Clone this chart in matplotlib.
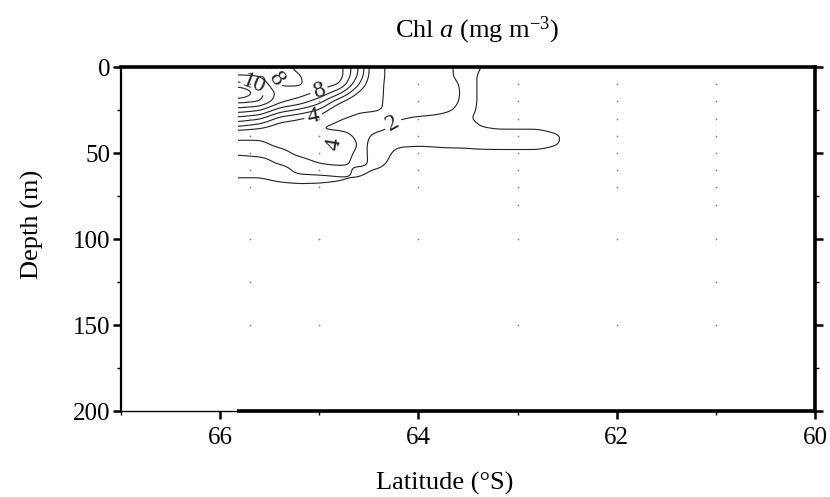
import numpy as np
import matplotlib.pyplot as plt
from matplotlib.ticker import MultipleLocator

plt.rcParams['font.family'] = ['Liberation Serif', 'DejaVu Serif']
plt.rcParams['mathtext.fontset'] = 'custom'
plt.rcParams['mathtext.rm'] = 'Liberation Serif'
plt.rcParams['mathtext.it'] = 'Liberation Serif:italic'

# gridded Chl a (mg m-3), one row per latitude, values at the depths below
lats = [65.83, 65.6, 65.4, 65.2, 65.0, 64.8, 64.6, 64.4, 64.2, 64.0, 63.8, 63.7,
        63.6, 63.5, 63.4, 63.2, 63.0, 62.8, 62.6, 62.4, 62.0, 61.0, 60.0]
depths = [0, 5, 10, 15, 20, 25, 30, 35, 40, 45, 50, 55, 60, 65, 70, 80, 100, 150, 200]
chl = [
    [8.7, 8.95, 10.4, 12.5, 10.3, 8.6, 6.6, 4.9, 2.5, 1.5, 1.8, 2.6, 2.6, 1.9, 1.4, 1.0, 0.6, 0.5, 0.5],
    [8.6, 8.9, 9.9, 10.4, 10.1, 8.1, 6.1, 4.3, 2.4, 1.6, 1.6, 2.5, 2.6, 1.9, 1.3, 1.0, 0.6, 0.5, 0.5],
    [7.5, 7.6, 7.8, 8.6, 8.3, 6.5, 4.6, 3.3, 2.9, 2.3, 1.5, 1.7, 2.6, 2.3, 1.5, 1.0, 0.6, 0.5, 0.5],
    [8.3, 7.9, 7.85, 8.5, 7.6, 5.8, 4.05, 3.1, 2.9, 2.8, 2.3, 1.5, 1.6, 2.5, 1.6, 1.0, 0.6, 0.5, 0.5],
    [8.6, 8.8, 8.6, 7.9, 6.4, 4.9, 3.4, 1.9, 2.6, 3.1, 2.9, 2.1, 1.5, 2.4, 1.6, 1.0, 0.6, 0.5, 0.5],
    [8.5, 8.6, 8.1, 6.3, 4.3, 2.9, 2.1, 1.5, 2.8, 4.8, 3.0, 2.4, 1.5, 2.2, 1.5, 1.0, 0.6, 0.5, 0.5],
    [6.0, 5.8, 5.0, 3.8, 2.7, 2.2, 1.6, 1.5, 1.5, 1.5, 1.5, 1.6, 2.3, 1.95, 1.3, 1.0, 0.6, 0.5, 0.5],
    [2.15, 2.15, 2.1, 2.1, 2.1, 2.05, 1.6, 1.6, 2.4, 2.7, 2.7, 2.5, 1.9, 1.4, 1.2, 1.0, 0.6, 0.5, 0.5],
    [1.6, 1.6, 1.6, 1.6, 1.6, 1.7, 1.9, 2.4, 2.6, 2.2, 1.6, 1.3, 1.2, 1.1, 1.1, 1.0, 0.6, 0.5, 0.5],
    [1.5, 1.5, 1.5, 1.5, 1.5, 1.6, 2.15, 2.5, 2.5, 2.1, 1.6, 1.3, 1.2, 1.1, 1.1, 1.0, 0.6, 0.5, 0.5],
    [1.7, 1.75, 1.8, 1.8, 1.75, 1.8, 2.2, 2.45, 2.45, 2.15, 1.7, 1.3, 1.2, 1.1, 1.1, 1.0, 0.6, 0.5, 0.5],
    [1.9, 1.9, 1.85, 1.85, 1.85, 1.9, 2.3, 2.5, 2.5, 2.2, 1.7, 1.3, 1.2, 1.1, 1.1, 1.0, 0.6, 0.5, 0.5],
    [2.1, 2.1, 1.95, 1.9, 1.95, 2.1, 2.4, 2.5, 2.5, 2.2, 1.7, 1.3, 1.2, 1.1, 1.1, 1.0, 0.6, 0.5, 0.5],
    [2.35, 2.3, 2.3, 2.3, 2.3, 2.3, 2.1, 2.5, 2.5, 2.25, 1.7, 1.3, 1.2, 1.1, 1.1, 1.0, 0.6, 0.5, 0.5],
    [2.1, 1.95, 1.95, 1.95, 1.95, 1.9, 1.8, 2.05, 2.4, 2.3, 1.75, 1.3, 1.2, 1.1, 1.1, 1.0, 0.6, 0.5, 0.5],
    [1.5, 1.5, 1.5, 1.5, 1.5, 1.5, 1.5, 1.9, 2.35, 2.35, 1.75, 1.3, 1.2, 1.1, 1.1, 1.0, 0.6, 0.5, 0.5],
    [1.4, 1.4, 1.4, 1.4, 1.4, 1.4, 1.45, 1.9, 2.35, 2.35, 1.75, 1.3, 1.2, 1.1, 1.1, 1.0, 0.6, 0.5, 0.5],
    [1.3, 1.3, 1.3, 1.3, 1.3, 1.3, 1.4, 1.9, 2.35, 2.35, 1.75, 1.3, 1.2, 1.1, 1.1, 1.0, 0.6, 0.5, 0.5],
    [1.2, 1.2, 1.2, 1.2, 1.2, 1.2, 1.3, 1.7, 2.1, 2.05, 1.6, 1.3, 1.2, 1.1, 1.1, 1.0, 0.6, 0.5, 0.5],
    [1.2, 1.2, 1.2, 1.2, 1.2, 1.2, 1.2, 1.4, 1.5, 1.5, 1.4, 1.3, 1.2, 1.1, 1.1, 1.0, 0.6, 0.5, 0.5],
    [1.2, 1.2, 1.2, 1.2, 1.2, 1.2, 1.2, 1.2, 1.2, 1.2, 1.2, 1.2, 1.2, 1.1, 1.1, 1.0, 0.6, 0.5, 0.5],
    [1.2, 1.2, 1.2, 1.2, 1.2, 1.2, 1.2, 1.2, 1.2, 1.2, 1.2, 1.2, 1.2, 1.1, 1.1, 1.0, 0.6, 0.5, 0.5],
    [1.2, 1.2, 1.2, 1.2, 1.2, 1.2, 1.2, 1.2, 1.2, 1.2, 1.2, 1.2, 1.2, 1.1, 1.1, 1.0, 0.6, 0.5, 0.5],
]

# sampling stations and bottle depths
station_lats = [65.7, 65.0, 64.0, 63.0, 62.0, 61.0]
station_depths = [
    [10, 20, 30, 40, 50, 60, 70, 100, 125, 150, 200],
    [10, 20, 30, 40, 50, 60, 70, 100, 150, 200],
    [10, 20, 30, 40, 50, 60, 70, 100, 200],
    [10, 20, 30, 40, 50, 60, 70, 80, 100, 150, 200],
    [10, 20, 30, 40, 50, 60, 70, 100, 150, 200],
    [10, 20, 30, 40, 50, 60, 70, 80, 100, 125, 150, 200],
]

levels = [2, 4, 5, 6, 7, 8, 9, 10, 11, 12, 13]
# labelled contour levels and where their labels sit (lat, depth)
label_spots = {10: [(65.66, 11)], 8: [(65.47, 8), (65.0, 14.5)], 4: [(65.06, 29), (64.86, 45)], 2: [(64.28, 30)]}


def regrid(lats, depths, chl):
    la = np.array(lats)[::-1]
    z = np.array(chl)[::-1]
    lat_f = np.arange(la[0], la[-1] + 0.001, 0.02)
    dep_f = np.arange(0, 200.01, 0.5)
    tmp = np.array([np.interp(lat_f, la, z[:, j]) for j in range(len(depths))])
    zf = np.array([np.interp(dep_f, depths, tmp[:, i]) for i in range(len(lat_f))]).T
    return lat_f, dep_f, zf


def smooth(z, axis, n):
    k = np.array([1, 4, 6, 4, 1]) / 16.0
    for _ in range(n):
        z = np.apply_along_axis(lambda v: np.convolve(np.pad(v, 2, mode='edge'), k, mode='valid'), axis, z)
    return z


lat_f, dep_f, zf = regrid(lats, depths, chl)
zf = smooth(zf, 1, 4)
zf = smooth(zf, 0, 8)

fig = plt.figure(figsize=(8.3, 4.97), dpi=100)
ax = fig.add_axes([0.1458, 0.173, 0.8362, 0.692])

plain = [l for l in levels if l not in label_spots]
ax.contour(lat_f, dep_f, zf, levels=plain, colors='#222222', linewidths=0.8)
for lev, spots in label_spots.items():
    c = ax.contour(lat_f, dep_f, zf, levels=[lev], colors='#222222', linewidths=0.8)
    ax.clabel(c, manual=spots, inline=True, fontsize=17, fmt='%d')

for la, ds in zip(station_lats, station_depths):
    ax.plot([la] * len(ds), ds, 'o', ms=1.3, color='#8c8c8c', mec='none')

# bottom edge of the gridded section
ax.plot([lats[0], lats[-1]], [200, 200], color='k', lw=2.6, clip_on=False, solid_capstyle='butt')

ax.set_xlim(67, 60)
ax.set_ylim(200, 0)
ax.xaxis.set_major_locator(MultipleLocator(2))
ax.xaxis.set_minor_locator(MultipleLocator(1))
ax.yaxis.set_major_locator(MultipleLocator(50))
ax.yaxis.set_minor_locator(MultipleLocator(25))
ax.tick_params(which='both', direction='out', right=True, top=False, labelsize=18)
ax.tick_params(which='major', length=6, width=1.8)
ax.tick_params(which='minor', length=3, width=1.0)
ax.tick_params(axis='y', pad=1.5)
ax.tick_params(axis='x', pad=5.5)

ax.spines['top'].set_linewidth(2.6)
ax.spines['right'].set_linewidth(2.6)
ax.spines['left'].set_linewidth(1.6)
ax.spines['bottom'].set_linewidth(1.0)

fig.text(477 / 830, 1 - 30 / 497, r'Chl $a$ (mg m$^{-3}$)', ha='center', va='center', fontsize=19)
fig.text(445 / 830, 1 - 483 / 497, 'Latitude (°S)', ha='center', va='center', fontsize=19)
fig.text(32 / 830, 1 - 224 / 497, 'Depth (m)', rotation=90, ha='center', va='center', fontsize=19)

fig.savefig('out.png', dpi=100)
